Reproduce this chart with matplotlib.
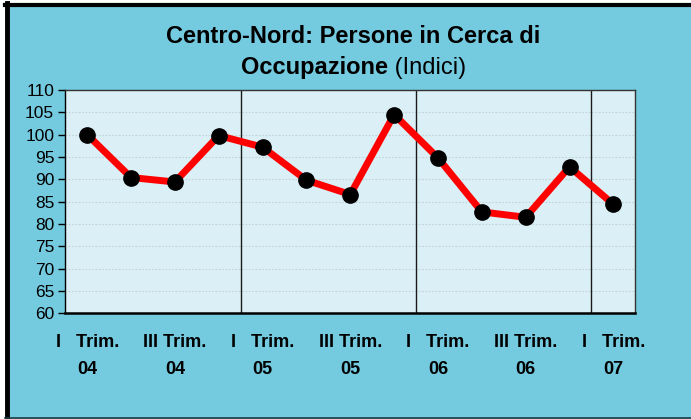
import matplotlib
matplotlib.use("Agg")
import matplotlib.pyplot as plt
from matplotlib.patches import Rectangle
from matplotlib.lines import Line2D

# ---- data ----
categories = ["I Trim. 04", "II Trim. 04", "III Trim. 04", "IV Trim. 04",
              "I Trim. 05", "II Trim. 05", "III Trim. 05", "IV Trim. 05",
              "I Trim. 06", "II Trim. 06", "III Trim. 06", "IV Trim. 06",
              "I Trim. 07"]
values = [100.0, 90.4, 89.4, 99.8, 97.2, 89.8, 86.6, 104.5,
          94.8, 82.7, 81.5, 92.8, 84.4]
tick_labels = ["I   Trim.\n04", "III Trim.\n04", "I   Trim.\n05", "III Trim.\n05",
               "I   Trim.\n06", "III Trim.\n06", "I   Trim.\n07"]
y_ticks = [60, 65, 70, 75, 80, 85, 90, 95, 100, 105, 110]
year_bounds = [3.5, 7.5, 11.5]

plt.rcParams['font.family'] = ['Liberation Sans', 'DejaVu Sans']

W, H = 691, 419
fig = plt.figure(figsize=(W / 100, H / 100), dpi=100)
fig.patch.set_facecolor("white")

outer = "#74CADF"
plotbg = "#DAF0F6"

# outer panel with border
fig.patches.append(Rectangle((5 / W, 0), 1 - 5 / W, 1 - 4 / H, transform=fig.transFigure,
                             facecolor=outer, edgecolor="none", zorder=-10))
fig.lines.append(Line2D([7 / W, 7 / W], [1 / H, 1 - 3 / H], transform=fig.transFigure,
                        color="black", lw=3.5, zorder=-5))
fig.lines.append(Line2D([5 / W, 1], [1 - 5 / H, 1 - 5 / H], transform=fig.transFigure,
                        color="black", lw=3.0, zorder=-5))
fig.lines.append(Line2D([5 / W, 1], [1 / H, 1 / H], transform=fig.transFigure,
                        color="#1a3a44", lw=1.2, zorder=-5))

ax = fig.add_axes([65.3 / W, 1 - 313.3 / H, (635.3 - 65.3) / W, (313.3 - 90) / H])
ax.set_facecolor(plotbg)

x = list(range(len(values)))
ax.plot(x, values, color="#FF0000", lw=5, marker="o", markersize=11,
        markerfacecolor="black", markeredgecolor="black", zorder=5,
        solid_joinstyle="miter")

ax.set_xlim(-0.5, len(values) - 0.5)
ax.set_ylim(60, 110)
ax.set_yticks(y_ticks)
ax.set_yticklabels([str(v) for v in y_ticks], fontsize=12.5)

for yv in y_ticks[1:-1]:
    ax.axhline(yv, color="#c4d2d6", lw=0.8, linestyle=(0, (1.5, 1.5)), zorder=1)
for xb in year_bounds:
    ax.axvline(xb, color="#1a1a1a", lw=1.0, zorder=2)

ax.set_xticks(x[::2])
ax.set_xticklabels(tick_labels, fontsize=13, fontweight="bold", linespacing=1.75)
ax.tick_params(axis="x", length=0, pad=15)
ax.tick_params(axis="y", length=5, width=1, direction="out", pad=3)

ax.spines["left"].set_linewidth(1.0)
ax.spines["bottom"].set_linewidth(1.8)
ax.spines["top"].set_color("#333333")
ax.spines["right"].set_color("#333333")
ax.spines["top"].set_linewidth(1.0)
ax.spines["right"].set_linewidth(1.0)

# title
fig.text(353.5 / W, 1 - 43 / H, "Centro-Nord: Persone in Cerca di", ha="center",
         va="baseline", fontsize=17, fontweight="bold")
t1 = fig.text(0, 1 - 74 / H, "Occupazione", ha="left", va="baseline",
              fontsize=17, fontweight="bold")
t2 = fig.text(0, 1 - 74 / H, " (Indici)", ha="left", va="baseline",
              fontsize=17)
fig.canvas.draw()
r = fig.canvas.get_renderer()
w1 = t1.get_window_extent(r).width
w2 = t2.get_window_extent(r).width
start = 353.5 - (w1 + w2) / 2
t1.set_x(start / W)
t2.set_x((start + w1) / W)

fig.savefig("out.png", dpi=100, facecolor=fig.get_facecolor())
